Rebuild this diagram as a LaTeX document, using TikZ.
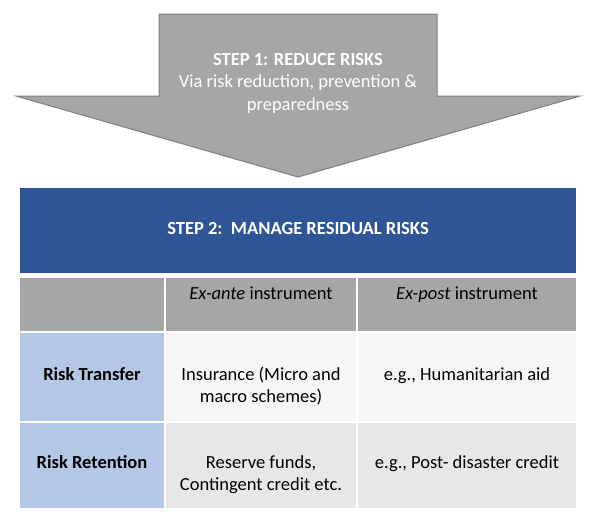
\documentclass[tikz,border=0pt]{standalone}
\usepackage{fontspec}
\setmainfont{Carlito}
\definecolor{sgray}{RGB}{166,166,166}
\definecolor{sedge}{RGB}{127,127,127}
\definecolor{sblue}{RGB}{47,85,151}
\definecolor{slblue}{RGB}{180,199,231}
\definecolor{slight}{RGB}{246,246,246}
\definecolor{sdark}{RGB}{231,231,231}

\begin{document}
\begin{tikzpicture}[x=1pt,y=-1pt,
    every node/.style={font=\fontsize{18.5}{22.5}\selectfont, inner sep=0pt},
    txt/.style={anchor=north, align=center},
    head/.style={txt, text=white, font=\fontsize{18.5}{22.5}\selectfont\bfseries}]
  \useasboundingbox (0,0) rectangle (596,520);

  % step 1: the big arrow
  \filldraw[fill=sgray, draw=sedge, line width=1pt]
    (159,14) -- (437,14) -- (437,96) -- (580,96) -- (298,177)
    -- (16,96) -- (159,96) -- cycle;
  \node[head] (stepone) at (298,49.25)
    {\strut STEP 1: REDUCE RISKS\\\mdseries Via risk reduction, prevention \&\\\mdseries preparedness};

  % step 2: banner
  \fill[sblue] (20,188) rectangle (576,272.5);
  \node[head] (steptwo) at (298,218.25) {\strut STEP 2:\ \ MANAGE RESIDUAL RISKS};

  % table cells
  \fill[sgray]  (20,278)  rectangle (164,331);
  \fill[sgray]  (166,278) rectangle (356,331);
  \fill[sgray]  (358,278) rectangle (576,331);
  \fill[slblue] (20,333)  rectangle (164,421);
  \fill[slight] (166,333) rectangle (356,421);
  \fill[slight] (358,333) rectangle (576,421);
  \fill[slblue] (20,423)  rectangle (164,508);
  \fill[sdark]  (166,423) rectangle (356,508);
  \fill[sdark]  (358,423) rectangle (576,508);

  % header row
  \node[txt] (exante) at (261,283.25) {\strut\textit{Ex-ante} instrument};
  \node[txt] (expost) at (467,283.25) {\strut\textit{Ex-post} instrument};

  % risk transfer
  \node[txt, font=\fontsize{18.5}{22.5}\selectfont\bfseries] (transfer) at (92,364.25) {\strut Risk Transfer};
  \node[txt] (insurance) at (261,364.25) {\strut Insurance (Micro and\\macro schemes)};
  \node[txt] (aid) at (467,364.25) {\strut e.g., Humanitarian aid};

  % risk retention
  \node[txt, font=\fontsize{18.5}{22.5}\selectfont\bfseries] (retention) at (92,452.25) {\strut Risk Retention};
  \node[txt] (reserve) at (261,452.25) {\strut Reserve funds,\\Contingent credit etc.};
  \node[txt] (credit) at (467,452.25) {\strut e.g., Post- disaster credit};
\end{tikzpicture}
\end{document}
